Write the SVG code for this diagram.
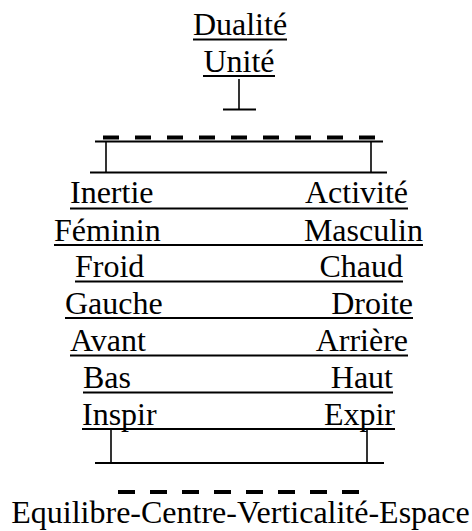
<svg xmlns="http://www.w3.org/2000/svg" width="472" height="531" viewBox="0 0 472 531">
<style>
text{font-family:"Liberation Serif","Times New Roman",serif;font-size:32px;fill:#000}
.r{text-anchor:end}
.m{text-anchor:middle}
.u{stroke:#000;stroke-width:2;fill:none}
.c{stroke:#000;stroke-width:1.6;fill:none}
.d{stroke:#000;stroke-width:4;fill:none}
</style>
<rect width="472" height="531" fill="#fff"/>
<g id="dualite"><text class="m" x="240" y="35">Dualité</text><line class="u" x1="193" y1="39.5" x2="287" y2="39.5"/></g>
<g id="unite"><text class="m" x="239" y="72">Unité</text><line class="u" x1="203" y1="76" x2="275" y2="76"/></g>
<g id="row-inertie"><text x="70" y="203">Inertie</text><text class="r" x="408" y="203">Activité</text><line class="u" x1="70" y1="208.5" x2="408" y2="208.5"/></g>
<g id="row-feminin"><text x="54" y="240.5">Féminin</text><text class="r" x="423" y="240.5">Masculin</text><line class="u" x1="54" y1="245" x2="423" y2="245"/></g>
<g id="row-froid"><text x="75" y="277">Froid</text><text class="r" x="403" y="277">Chaud</text><line class="u" x1="75" y1="281.5" x2="403" y2="281.5"/></g>
<g id="row-gauche"><text x="65" y="313.5">Gauche</text><text class="r" x="413" y="313.5">Droite</text><line class="u" x1="65" y1="318" x2="413" y2="318"/></g>
<g id="row-avant"><text x="70" y="351">Avant</text><text class="r" x="408" y="351">Arrière</text><line class="u" x1="70" y1="355.5" x2="408" y2="355.5"/></g>
<g id="row-bas"><text x="83" y="388">Bas</text><text class="r" x="393" y="388">Haut</text><line class="u" x1="83" y1="392.5" x2="393" y2="392.5"/></g>
<g id="row-inspir"><text x="82" y="424.5">Inspir</text><text class="r" x="395" y="424.5">Expir</text><line class="u" x1="82" y1="429" x2="395" y2="429"/></g>
<g id="equilibre"><text class="m" x="240.5" y="523">Equilibre-Centre-Verticalité-Espace</text></g>
<g id="connectors">
<line class="c" x1="239" y1="79" x2="239" y2="110"/>
<line class="u" x1="223" y1="109.5" x2="256" y2="109.5"/>
<line class="d" x1="103" y1="137.5" x2="375" y2="137.5" stroke-dasharray="16 16"/>
<line class="u" x1="95" y1="141.5" x2="383" y2="141.5"/>
<line class="c" x1="106" y1="141.5" x2="106" y2="172.5"/>
<line class="c" x1="371" y1="141.5" x2="371" y2="172.5"/>
<line class="u" x1="90" y1="172.5" x2="387" y2="172.5"/>
<line class="c" x1="111" y1="429" x2="111" y2="463"/>
<line class="c" x1="367" y1="429" x2="367" y2="463"/>
<line class="u" x1="95" y1="463" x2="384" y2="463"/>
<line class="d" x1="118" y1="492" x2="359" y2="492" stroke-dasharray="17 15"/>
</g>
</svg>
